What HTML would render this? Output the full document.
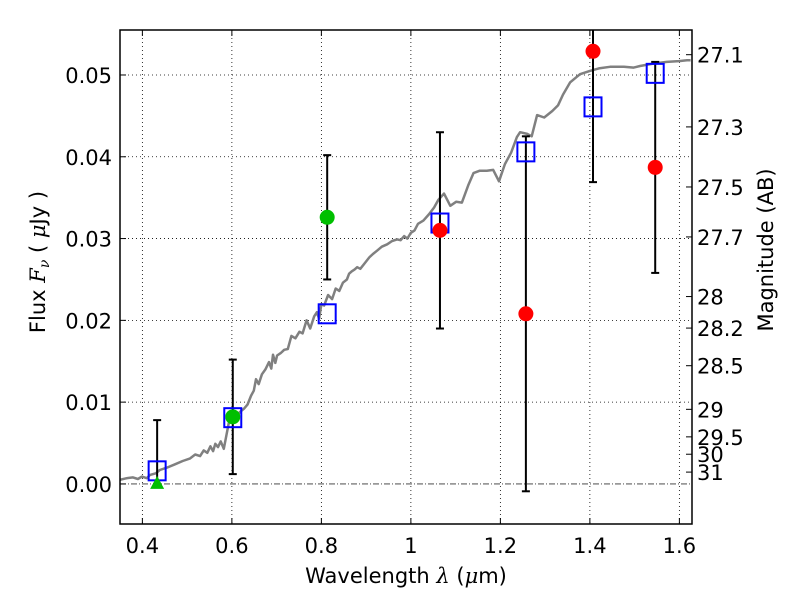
<!DOCTYPE html>
<html><head><meta charset="utf-8"><style>
body{margin:0;background:#fff;}
svg{display:block;font-family:"DejaVu Sans","Liberation Sans",sans-serif;}
</style></head><body>
<svg id="chart" width="800" height="600" viewBox="0 0 800 600" xmlns="http://www.w3.org/2000/svg"></svg>
<script>
const xTicks=[0.4,0.6,0.8,1.0,1.2,1.4,1.6];
const xTickLabels=["0.4","0.6","0.8","1","1.2","1.4","1.6"];
const yTicks=[0,0.01,0.02,0.03,0.04,0.05];
const yTickLabels=["0.00","0.01","0.02","0.03","0.04","0.05"];
const magTicks=[27.1,27.3,27.5,27.7,28,28.2,28.5,29,29.5,30,31];
const magTickLabels=["27.1","27.3","27.5","27.7","28","28.2","28.5","29","29.5","30","31"];
const specWave=[0.35,0.365,0.379,0.39,0.399,0.41,0.417,0.43,0.439,0.455,0.473,0.49,0.506,0.518,0.529,0.537,0.545,0.552,0.558,0.563,0.569,0.575,0.582,0.593,0.600,0.609,0.618,0.627,0.635,0.643,0.649,0.654,0.660,0.667,0.675,0.683,0.688,0.692,0.697,0.701,0.709,0.717,0.725,0.733,0.742,0.751,0.758,0.767,0.775,0.784,0.790,0.795,0.800,0.806,0.815,0.824,0.832,0.840,0.848,0.857,0.862,0.868,0.874,0.880,0.887,0.897,0.907,0.915,0.924,0.935,0.947,0.958,0.969,0.977,0.985,0.992,1.0,1.008,1.016,1.028,1.041,1.052,1.061,1.074,1.088,1.101,1.114,1.128,1.140,1.154,1.170,1.184,1.197,1.210,1.224,1.237,1.244,1.260,1.270,1.282,1.298,1.316,1.329,1.340,1.356,1.378,1.400,1.420,1.445,1.476,1.498,1.512,1.543,1.572,1.599,1.617,1.625];
const specFlux=[0.0005,0.0007,0.0008,0.0006,0.0009,0.0007,0.0011,0.0013,0.0017,0.002,0.0024,0.0028,0.0031,0.0036,0.0034,0.0041,0.0038,0.0046,0.0040,0.0049,0.0045,0.0052,0.0043,0.0074,0.0082,0.0081,0.0088,0.0092,0.0097,0.0108,0.0114,0.0128,0.0122,0.0134,0.0140,0.0149,0.0141,0.0158,0.0148,0.0157,0.0160,0.0164,0.0165,0.0181,0.0178,0.0186,0.0184,0.0200,0.0190,0.0205,0.0210,0.0202,0.0220,0.0218,0.0231,0.0226,0.0239,0.0236,0.0246,0.0250,0.0257,0.0260,0.0262,0.0265,0.0263,0.0270,0.0277,0.0281,0.0285,0.0290,0.0293,0.0297,0.0299,0.0298,0.0303,0.0300,0.0307,0.0310,0.0318,0.0322,0.0330,0.0338,0.0347,0.0355,0.0340,0.0345,0.0344,0.0365,0.0380,0.0383,0.0383,0.0384,0.0370,0.0391,0.0405,0.0424,0.043,0.0428,0.0425,0.0451,0.0448,0.0456,0.0463,0.0476,0.0491,0.0501,0.0505,0.0508,0.0510,0.0510,0.0509,0.0511,0.0514,0.0516,0.0517,0.0518,0.0518];
const modelWave=[0.433,0.602,0.813,1.065,1.257,1.407,1.546];
const modelFlux=[0.0016,0.0081,0.0208,0.0319,0.0406,0.0461,0.0502];
const obsWave=[0.433,0.602,0.813,1.065,1.257,1.407,1.546];
const obsFlux=[0.0,0.0082,0.0326,0.031,0.0208,0.0529,0.0387];
const obsErr=[0.0078,0.007,0.0076,0.012,0.0217,0.016,0.0129];
const obsType=["tri","g","g","r","r","r","r"];

const L=120,R=692,T=30,B=524;
const X0=0.35,X1=0.35+(R-L)/447.5, Y0=-0.0049, Y1=0.0555;
const sx=v=>L+(v-X0)/(X1-X0)*(R-L);
const sy=v=>B-(v-Y0)/(Y1-Y0)*(B-T);
const magToFlux=m=>Math.pow(10,(23.9-m)/2.5);
const svg=document.getElementById('chart');
const NS="http://www.w3.org/2000/svg";
function mk(tag,attrs,parent){const e=document.createElementNS(NS,tag);for(const k in attrs)e.setAttribute(k,attrs[k]);(parent||svg).appendChild(e);return e;}

const defs=mk('defs',{});
const cp=mk('clipPath',{id:'clip'},defs);
mk('rect',{x:L,y:T,width:R-L,height:B-T},cp);

xTicks.forEach(v=>{const g=mk('line',{x1:sx(v),x2:sx(v),y1:T,y2:B,stroke:'#000','stroke-width':0.8,'stroke-dasharray':'1,3'});

});
yTicks.forEach(v=>{if(v===0)return;const g=mk('line',{x1:L,x2:R,y1:sy(v),y2:sy(v),stroke:'#000','stroke-width':0.8,'stroke-dasharray':'1,3'});

});
const zl=mk('line',{x1:L,x2:R,y1:sy(0),y2:sy(0),stroke:'#333','stroke-width':0.8,'stroke-dasharray':'6,2,1,2'});



const plot=mk('g',{'clip-path':'url(#clip)'});



let d=specWave.map((w,i)=>(i?'L':'M')+sx(w).toFixed(1)+','+sy(specFlux[i]).toFixed(1)).join(' ');
const sp=mk('path',{d:d,fill:'none',stroke:'#808080','stroke-width':2.5,'stroke-linejoin':'round'},plot);



obsWave.forEach((w,i)=>{
  const x=sx(w),y1=sy(obsFlux[i]+obsErr[i]),y2=sy(Math.max(obsFlux[i]-obsErr[i],obsType[i]==='tri'?0:-1));
  const g=mk('g',{stroke:'#000','stroke-width':2},plot);
  
  
  mk('line',{x1:x,x2:x,y1:y1,y2:y2},g);
  mk('line',{x1:x-4,x2:x+4,y1:y1,y2:y1},g);
  mk('line',{x1:x-4,x2:x+4,y1:y2,y2:y2},g);
});
modelWave.forEach((w,i)=>{
  const r=mk('rect',{x:sx(w)-8.5,y:sy(modelFlux[i])-9.5,width:17,height:19,fill:'none',stroke:'#0000ff','stroke-width':2},plot);
  
  
});
obsWave.forEach((w,i)=>{
  const x=sx(w),y=sy(obsFlux[i]);let e;
  if(obsType[i]==='tri'){e=mk('polygon',{points:`${x},${y-8} ${x-7},${y+5} ${x+7},${y+5}`,fill:'#00bf00'},plot);
    }
  else{e=mk('circle',{cx:x,cy:y,r:7.5,fill:obsType[i]==='g'?'#00bf00':'#ff0000'},plot);
    }
  
});

const fr=mk('rect',{x:L,y:T,width:R-L,height:B-T,fill:'none',stroke:'#000','stroke-width':1.5});



const FS=21;
xTicks.forEach((v,i)=>{const x=sx(v);
  mk('line',{x1:x,x2:x,y1:B,y2:B-6,stroke:'#000'});mk('line',{x1:x,x2:x,y1:T,y2:T+6,stroke:'#000'});
  const t=mk('text',{x:x,y:B+29,'text-anchor':'middle','font-size':FS});t.textContent=xTickLabels[i];
  
  });
yTicks.forEach((v,i)=>{const y=sy(v);
  mk('line',{x1:L,x2:L+6,y1:y,y2:y,stroke:'#000'});
  const t=mk('text',{x:L-8,y:y+8,'text-anchor':'end','font-size':FS});t.textContent=yTickLabels[i];
  
  });
magTicks.forEach((m,i)=>{const y=sy(magToFlux(m));
  mk('line',{x1:R,x2:R-6,y1:y,y2:y,stroke:'#000'});
  const t=mk('text',{x:R+5,y:y+8,'text-anchor':'start','font-size':FS});t.textContent=magTickLabels[i];
  
  });

const xl=mk('text',{x:406,y:583,'text-anchor':'middle','font-size':FS});
xl.innerHTML='Wavelength  <tspan font-style="italic" font-family="DejaVu Serif">λ</tspan> (<tspan font-style="italic" font-family="DejaVu Serif">μ</tspan>m)';


const yl=mk('text',{x:0,y:0,'text-anchor':'middle','font-size':FS,transform:'translate(45,262) rotate(-90)'});
yl.innerHTML='Flux  <tspan font-style="italic" font-family="DejaVu Serif">F</tspan><tspan font-style="italic" font-family="DejaVu Serif" font-size="14" dy="4">ν</tspan><tspan dy="-4">  (  </tspan><tspan font-style="italic" font-family="DejaVu Serif">μ</tspan>Jy )';


const rl=mk('text',{x:0,y:0,'text-anchor':'middle','font-size':FS,transform:'translate(773,250) rotate(-90)'});
rl.textContent='Magnitude (AB)';


</script>
</body></html>
